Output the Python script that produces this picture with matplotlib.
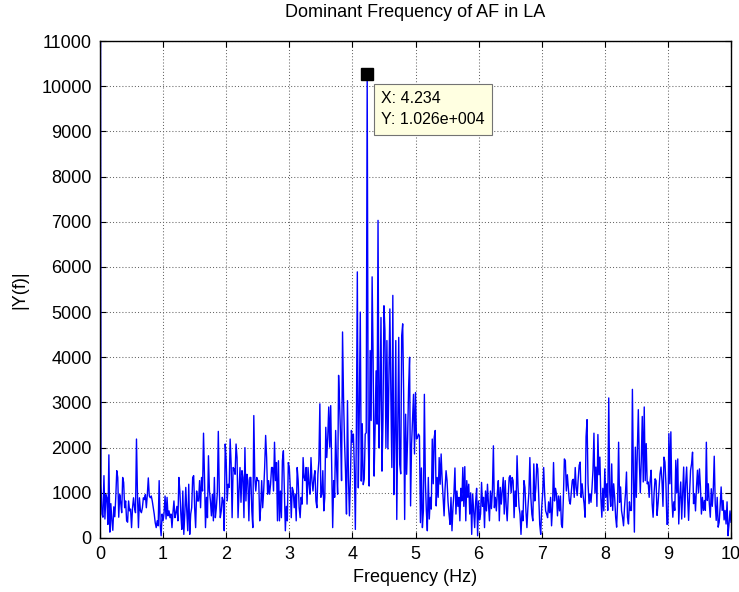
import numpy as np
import matplotlib
matplotlib.use('Agg')
import matplotlib.pyplot as plt
from matplotlib.transforms import offset_copy

plt.rcParams['font.family'] = ['Liberation Sans', 'DejaVu Sans']

# spectrum magnitude |Y(f)|, 1/64 Hz per sample
band_0_1 = [25000, 1190, 530, 460, 1380, 420, 960, 890, 300, 1840,
            130, 760, 390, 170, 690, 470, 900, 1490, 1340, 460,
            960, 780, 560, 1340, 1230, 670, 820, 380, 350, 820,
            600, 640, 230, 670, 890, 670, 560, 2190, 960, 230,
            890, 600, 560, 670, 890, 850, 960, 670, 960, 1330,
            930, 890, 930, 820, 670, 530, 340, 230, 380, 270,
            1270, 300, 50, 530, 380]
band_1_2 = [560, 930, 420, 900, 490, 600, 450, 530, 230, 560,
            820, 450, 560, 700, 380, 1340, 1040, 530, 190, 1040,
            80, 530, 1120, 600, 160, 1190, 80, 530, 670, 1340,
            1380, 670, 230, 1040, 820, 820, 1270, 670, 1340, 1040,
            2320, 1340, 230, 900, 450, 1820, 1040, 820, 490, 970,
            380, 1340, 450, 670, 1000, 2360, 1040, 450, 600, 900,
            820, 160, 2080, 1710, 820, 1190]
band_2_25 = [1120, 2190, 1640, 450, 1560, 1530, 1410, 2080, 1780, 450,
             1040, 1560, 790, 1490, 1340, 450, 2000, 820, 1410, 1270,
             380, 1340, 1340, 600, 230, 2710, 1340, 1040, 1340, 1270]
band_25_38 = [1270, 380, 670, 1270, 670, 1040, 1560, 2270, 1780, 970,
              1270, 970, 1190, 1560, 1560, 1040, 2120, 1270, 1670, 380,
              1710, 380, 1040, 450, 1710, 1930, 1040, 160, 700, 380,
              1670, 1560, 1120, 450, 1120, 1040, 670, 970, 380, 1560,
              1270, 670, 450, 900, 750, 1780, 1340, 1270, 1560, 750,
              1560, 1190, 970, 1780, 1270, 1040, 1340, 1490, 820, 670,
              1410, 1710, 2970, 900, 970, 1490, 600, 900, 2450, 1780,
              2230, 2900, 2010, 2930, 1560, 230, 1270, 900, 2380, 1560,
              970]
band_38_42 = [3600, 2970, 2260, 1270, 4560, 3110, 2150, 1480, 530, 3040,
              1330, 490, 1340, 2380, 2120, 2300, 1560, 190, 2300, 5890,
              1110, 2810, 5000, 1260, 2530, 1180, 1300, 2300, 2330]
peak = [10260]
band_42_52 = [2330, 1150, 4150, 2600, 5780, 4000, 1370, 2400, 3700, 2520,
              7030, 2000, 3100, 4880, 1480, 2600, 5140, 4590, 2000, 4370,
              1970, 3500, 5070, 3190, 1560, 5370, 960, 2200, 4370, 410,
              2500, 4440, 1630, 1420, 4480, 4740, 3180, 410, 2740, 1410,
              2200, 3330, 4000, 710, 2070, 2600, 3180, 1860, 3220, 2190,
              2220, 2300, 2260, 340, 1550, 230, 600, 3180]
band_52_6 = [1270, 600, 160, 1340, 420, 900, 640, 2190, 1200, 2230,
             2380, 710, 1340, 900, 1780, 1190, 1860, 1300, 900, 490,
             1100, 1490, 1270, 800, 530, 300, 900, 160, 670, 1000,
             1550, 530, 1040, 700, 900, 380, 1100, 820, 1560, 700,
             1580, 380, 1270, 900, 1190, 530, 1000, 80, 970, 600,
             230, 800, 1100, 50]
band_6_7 = [820, 400, 530, 1230, 700, 900, 230, 1040, 600, 1190,
            750, 380, 1040, 650, 1040, 2040, 670, 900, 600, 1000,
            1270, 380, 1120, 750, 1040, 1340, 530, 1270, 700, 380,
            900, 1340, 1380, 1000, 1340, 1270, 450, 1040, 700, 1820,
            1120, 700, 530, 80, 600, 380, 1270, 1120, 600, 230,
            670, 1000, 1780, 900, 530, 380, 1640, 820, 1100, 1640,
            1530, 900, 300, 80]
band_7_8 = [670, 1000, 1560, 970, 600, 530, 450, 800, 560, 900,
            270, 700, 1670, 820, 1100, 970, 490, 930, 600, 930,
            300, 230, 900, 1750, 1710, 1040, 1400, 1120, 820, 750,
            1000, 1270, 1300, 900, 1560, 1120, 940, 1300, 1610, 1680,
            900, 1200, 940, 760, 460, 2240, 2620, 1200, 760, 980,
            790, 1100, 1500, 2320, 1000, 1570, 700, 2290, 1400, 1790,
            900, 460, 1100, 600]
band_8_9 = [1530, 900, 1200, 610, 3100, 1010, 700, 1640, 610, 1200,
            900, 460, 240, 800, 2120, 790, 1130, 600, 460, 270,
            680, 1000, 1460, 460, 310, 800, 610, 610, 3290, 1350,
            130, 2010, 900, 1940, 2840, 1720, 1000, 1720, 2690, 1240,
            2900, 1270, 2090, 1200, 1240, 900, 1270, 1500, 760, 460,
            1000, 1310, 1270, 500, 760, 1100, 1420, 1570, 1270, 700,
            1790, 1680, 1200, 300]
band_9_10 = [310, 2310, 1200, 2350, 900, 460, 800, 610, 1720, 1000,
             1750, 310, 900, 1240, 420, 1000, 1570, 460, 1200, 1570,
             900, 390, 1000, 1500, 1640, 1900, 760, 980, 600, 1130,
             1500, 1000, 1530, 1130, 530, 900, 610, 830, 610, 2120,
             830, 1200, 760, 460, 1090, 700, 1050, 1810, 760, 390,
             900, 240, 350, 700, 1130, 610, 830, 400, 610, 310,
             800, 50, 310, 600, 350]

df = 1.0 / 64
x_ticks = list(range(0, 11))
y_ticks = list(range(0, 11001, 1000))

mag = np.array(band_0_1 + band_1_2 + band_2_25 + band_25_38 + band_38_42 + peak
               + band_42_52 + band_52_6 + band_6_7 + band_7_8 + band_8_9 + band_9_10, dtype=float)
freq = np.arange(len(mag)) * df

fig = plt.figure(figsize=(7.39, 5.92), dpi=100)
ax = fig.add_axes([100/739, 54/592, 631/739, 497/592])

ax.plot(freq, mag, color=(0, 0, 1), lw=1.0)

ax.set_xlim(0, 10)
ax.set_ylim(0, 11000)
ax.set_xticks(x_ticks)
ax.set_yticks(y_ticks)
ax.tick_params(direction='in', length=4, width=0.8, top=True, right=True,
               labelsize=13, pad=6)
ax.grid(True, color='0.4', linestyle=(0, (1, 2)), linewidth=0.75)
for s in ax.spines.values():
    s.set_linewidth(1.0)
    s.set_color('black')

ax.set_title('Dominant Frequency of AF in LA', fontsize=13, pad=17)
ax.set_xlabel('Frequency (Hz)', fontsize=13, labelpad=4)
ax.set_ylabel('|Y(f)|', fontsize=13, labelpad=9)

# data tip on the dominant peak (skip the DC bin)
k = int(np.argmax(mag[1:])) + 1
ax.plot(freq[k], mag[k], marker='s', markersize=8.5, color='black',
        markeredgecolor='black', zorder=5, clip_on=False)
tip = offset_copy(ax.transData, fig=fig, x=14, y=-17, units='dots')
ax.text(freq[k], mag[k], 'X: 4.234\nY: 1.026e+004', transform=tip,
        ha='left', va='top', fontsize=11.5, linespacing=1.5, zorder=6,
        bbox=dict(boxstyle='square,pad=0.45', facecolor='#ffffe1',
                  edgecolor='0.45', linewidth=0.8))

fig.savefig('out.png', dpi=100)
